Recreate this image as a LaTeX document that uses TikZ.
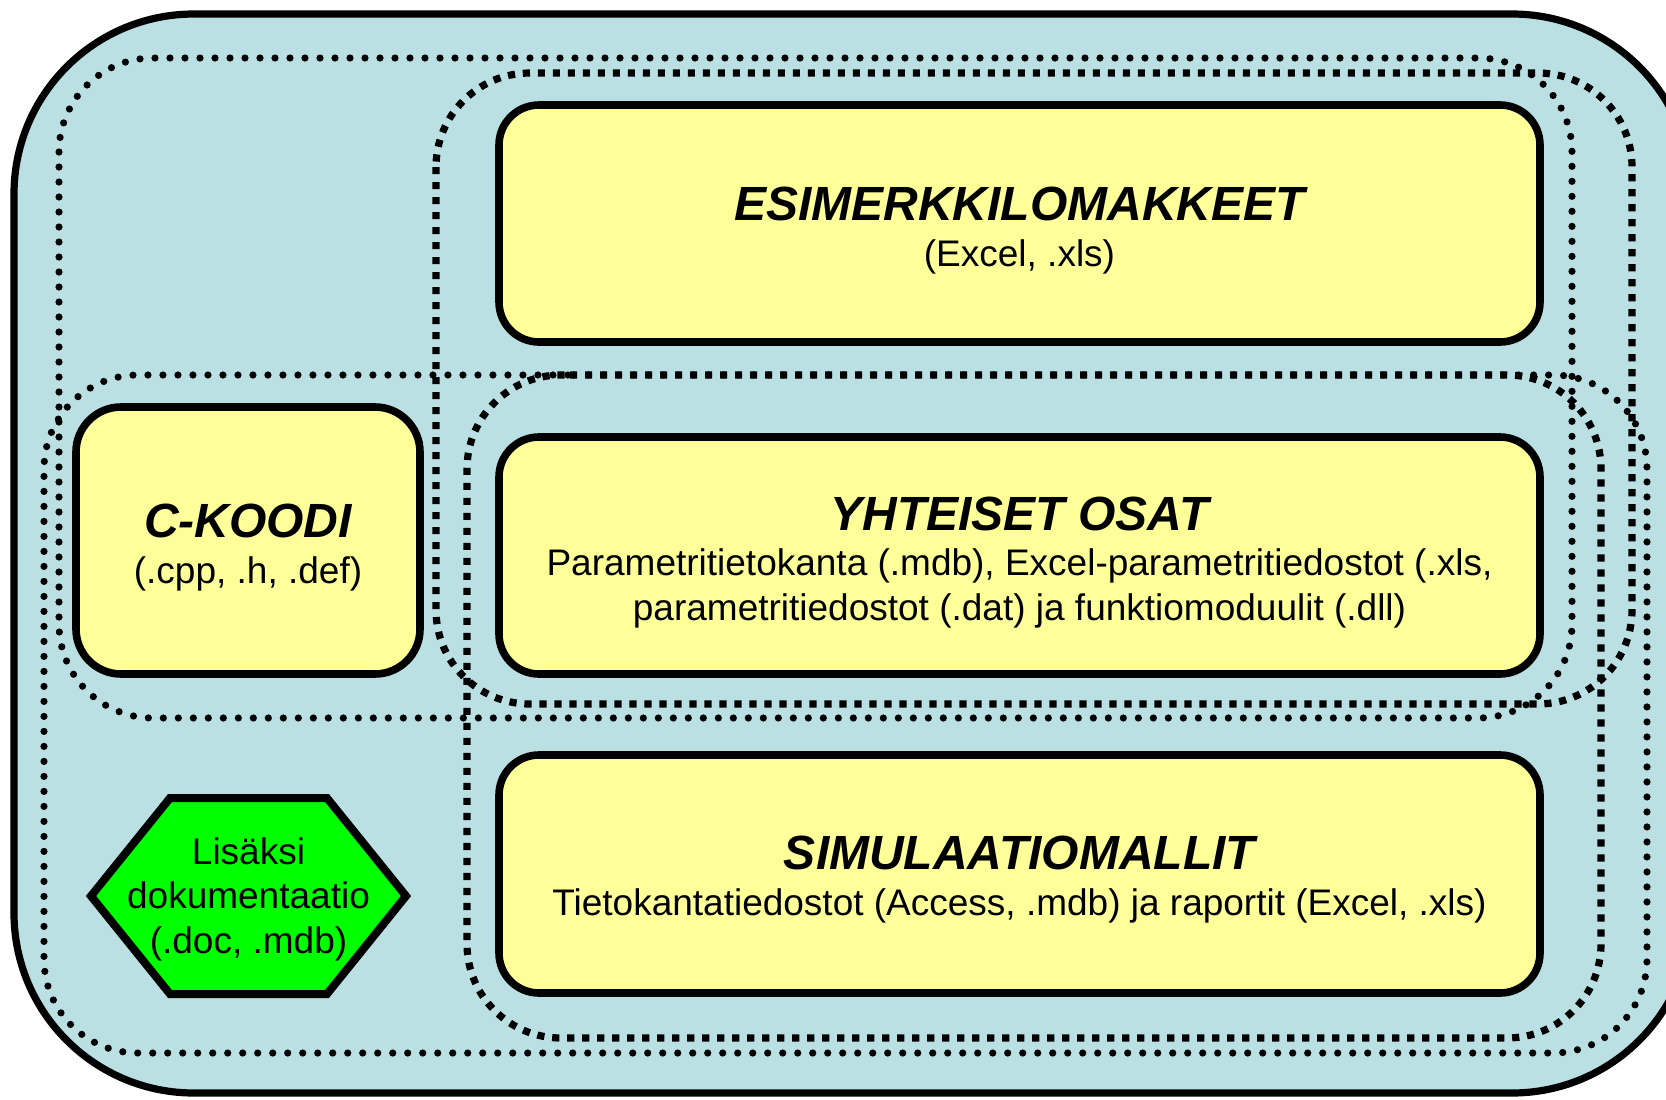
\documentclass[tikz,border=0pt]{standalone}
\usepackage{fontspec}
\setmainfont{Liberation Sans}
\definecolor{bluefill}{RGB}{187,224,227}
\definecolor{yfill}{RGB}{255,255,153}
\definecolor{gfill}{RGB}{0,255,0}
\tikzset{
  outerframe/.style={draw=black, line width=3.6pt, fill=bluefill, rounded corners=90pt},
  roundline/.style={line width=3.6pt, dash pattern=on 0pt off 7.5pt, line cap=round, rounded corners=47pt},
  squareline/.style={line width=3.6pt, dash pattern=on 3.6pt off 3.9pt, line cap=butt, rounded corners=47pt},
  ybox/.style={draw=black, line width=3.8pt, fill=yfill, rounded corners=20pt, inner sep=0pt, minimum width=520.5pt, minimum height=118.5pt},
  cbox/.style={draw=black, line width=3.8pt, fill=yfill, rounded corners=22.5pt, inner sep=0pt, minimum width=172pt, minimum height=133.5pt},
  hexshape/.style={draw=black, line width=4pt, fill=gfill, line join=miter},
  titletext/.style={font=\fontsize{24}{28}\selectfont\bfseries\itshape, anchor=base, inner sep=0pt},
  bodytext/.style={font=\fontsize{18.5}{22.5}\selectfont, anchor=base, inner sep=0pt},
}
\begin{document}
\begin{tikzpicture}[x=0.5pt,y=-0.5pt]
\useasboundingbox (0,0) rectangle (1666,1099);
\begin{scope}
  \clip (0,0) rectangle (1666,1099);
  \path[outerframe] (14,14) rectangle (1692,1093);
\end{scope}

% dotted group outlines
\draw[roundline] (59,58) rectangle (1572,718);
\draw[squareline] (436,73) rectangle (1632,704);
\draw[roundline, dash phase=5.7pt] (570,375) -- (1647,375) -- (1647,1053) -- (44,1053) -- (44,375) -- (570,375);
\draw[squareline] (570,375) -- (1601,375) -- (1601,1038) -- (467,1038) -- (467,375) -- (570,375);

% boxes
\node[ybox] (esim) at (1019.5,223.5) {};
\node[ybox] (yht) at (1019.5,555.5) {};
\node[ybox, minimum height=119pt] (sim) at (1019.5,874) {};
\node[cbox] (ckoodi) at (248,540.5) {};

\node[titletext] (esimT) at (1019.5,220) {ESIMERKKILOMAKKEET};
\node[bodytext] (esimB) at (1019.5,266) {(Excel, .xls)};

\node[titletext] (yhtT) at (1019.5,530) {YHTEISET OSAT};
\node[bodytext] (yhtB1) at (1019.5,575) {Parametritietokanta (.mdb), Excel-parametritiedostot (.xls,};
\node[bodytext] (yhtB2) at (1019.5,620) {parametritiedostot (.dat) ja funktiomoduulit (.dll)};

\node[titletext] (simT) at (1019.5,869) {SIMULAATIOMALLIT};
\node[bodytext] (simB) at (1019.5,915) {Tietokantatiedostot (Access, .mdb) ja raportit (Excel, .xls)};

\node[titletext] (ckT) at (248,537) {C-KOODI};
\node[bodytext] (ckB) at (248,583) {(.cpp, .h, .def)};

% hexagon
\draw[hexshape] (91,896) -- (170,798) -- (327,798) -- (406,896) -- (327,994) -- (170,994) -- cycle;
\node[bodytext] (hex1) at (248.5,864) {Lisäksi};
\node[bodytext] (hex2) at (248.5,908) {dokumentaatio};
\node[bodytext] (hex3) at (248.5,953) {(.doc, .mdb)};
\end{tikzpicture}
\end{document}
